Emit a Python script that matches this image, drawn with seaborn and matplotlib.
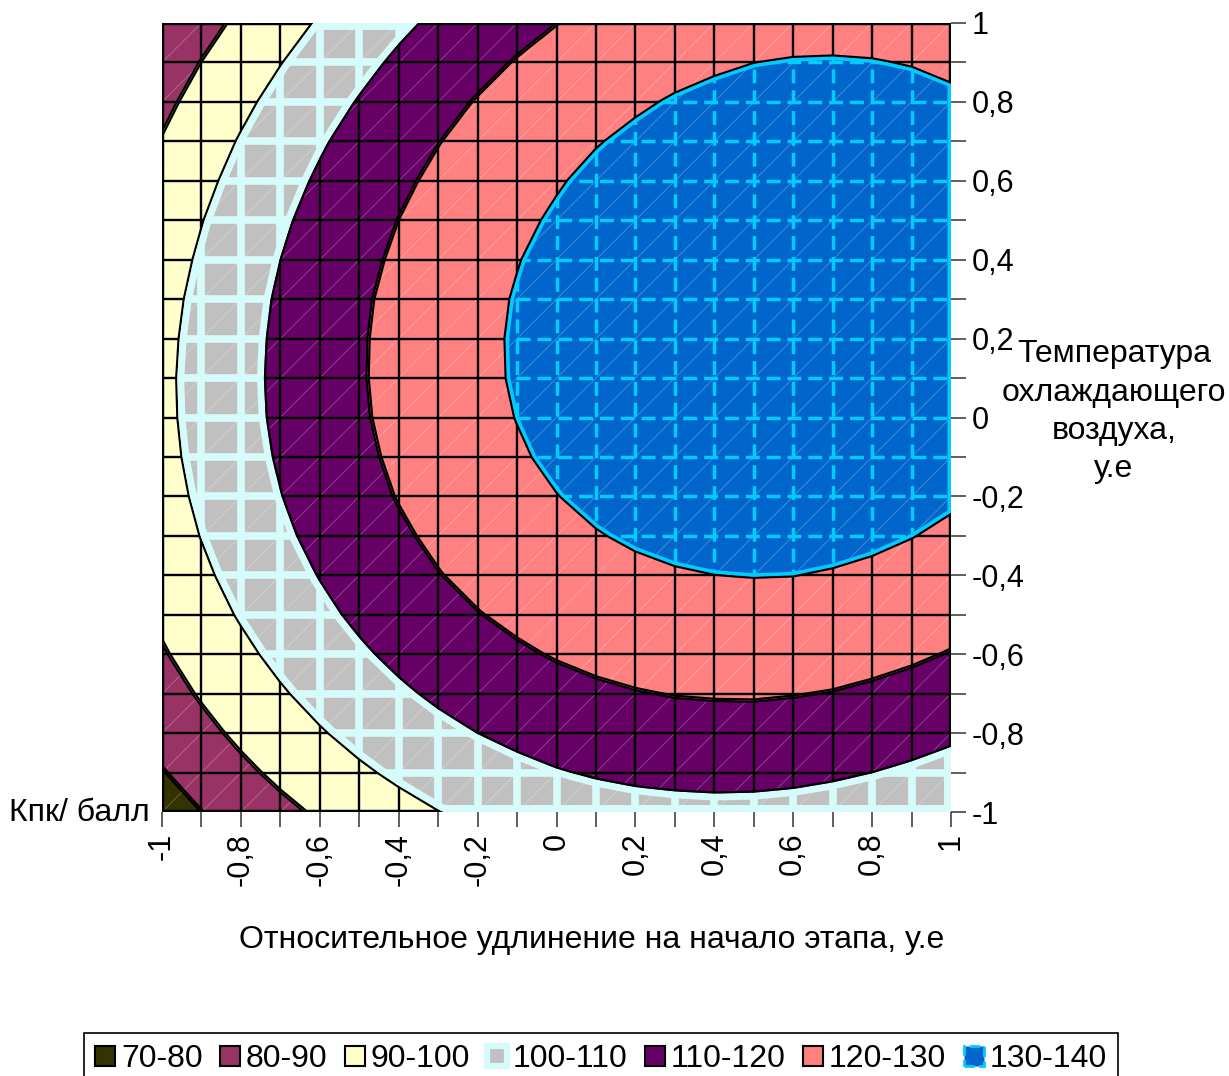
import numpy as np
import matplotlib
matplotlib.use("Agg")
import matplotlib.pyplot as plt
from matplotlib.collections import LineCollection
from matplotlib.patches import PathPatch, Patch
import seaborn as sns

# Grid of the two factors (coded units)
x_elong = [-1.0, -0.9, -0.8, -0.7, -0.6, -0.5, -0.4, -0.3, -0.2, -0.1, 0.0,
           0.1, 0.2, 0.3, 0.4, 0.5, 0.6, 0.7, 0.8, 0.9, 1.0]
y_temp = [-1.0, -0.9, -0.8, -0.7, -0.6, -0.5, -0.4, -0.3, -0.2, -0.1, 0.0,
          0.1, 0.2, 0.3, 0.4, 0.5, 0.6, 0.7, 0.8, 0.9, 1.0]

# Кпк, one row per temperature level (from y = -1 up to y = 1)
kpk_rows = [
    [75.5, 79.9, 84.0, 87.8, 91.2, 94.4, 97.2, 99.7, 101.8, 103.6, 105.1, 106.3, 107.1, 107.6, 107.8, 107.7, 107.2, 106.4, 105.3, 103.8, 102.0],
    [79.5, 83.9, 88.1, 91.9, 95.4, 98.6, 101.4, 104.0, 106.2, 108.0, 109.6, 110.8, 111.7, 112.2, 112.5, 112.4, 112.0, 111.2, 110.1, 108.7, 107.0],
    [83.1, 87.6, 91.8, 95.7, 99.2, 102.4, 105.3, 107.9, 110.1, 112.0, 113.6, 114.9, 115.8, 116.5, 116.8, 116.7, 116.4, 115.7, 114.6, 113.3, 111.6],
    [86.3, 90.9, 95.1, 99.0, 102.6, 105.9, 108.8, 111.4, 113.7, 115.7, 117.3, 118.6, 119.6, 120.3, 120.6, 120.7, 120.3, 119.7, 118.7, 117.4, 115.8],
    [89.2, 93.8, 98.0, 102.0, 105.6, 108.9, 111.9, 114.5, 116.9, 118.9, 120.6, 122.0, 123.0, 123.7, 124.1, 124.2, 123.9, 123.4, 122.4, 121.2, 119.6],
    [91.6, 96.3, 100.6, 104.6, 108.2, 111.6, 114.6, 117.3, 119.7, 121.7, 123.5, 124.9, 126.0, 126.8, 127.2, 127.3, 127.1, 126.6, 125.8, 124.6, 123.0],
    [93.7, 98.4, 102.7, 106.7, 110.4, 113.8, 116.9, 119.7, 122.1, 124.2, 126.0, 127.5, 128.6, 129.4, 129.9, 130.1, 130.0, 129.5, 128.7, 127.5, 126.1],
    [95.3, 100.1, 104.5, 108.5, 112.3, 115.7, 118.8, 121.6, 124.1, 126.3, 128.1, 129.6, 130.8, 131.7, 132.2, 132.5, 132.4, 131.9, 131.2, 130.1, 128.7],
    [96.6, 101.4, 105.8, 109.9, 113.7, 117.2, 120.4, 123.2, 125.7, 127.9, 129.8, 131.4, 132.6, 133.6, 134.2, 134.4, 134.4, 134.0, 133.3, 132.3, 130.9],
    [97.5, 102.3, 106.8, 110.9, 114.8, 118.3, 121.5, 124.4, 127.0, 129.2, 131.2, 132.8, 134.1, 135.0, 135.7, 136.0, 136.0, 135.7, 135.0, 134.1, 132.7],
    [98.0, 102.8, 107.3, 111.6, 115.4, 119.0, 122.3, 125.2, 127.8, 130.1, 132.1, 133.7, 135.1, 136.1, 136.8, 137.2, 137.2, 137.0, 136.4, 135.4, 134.2],
    [98.1, 103.0, 107.5, 111.8, 115.7, 119.3, 122.6, 125.6, 128.3, 130.6, 132.6, 134.3, 135.7, 136.8, 137.5, 137.9, 138.0, 137.8, 137.3, 136.4, 135.2],
    [97.8, 102.7, 107.3, 111.6, 115.6, 119.2, 122.6, 125.6, 128.3, 130.7, 132.8, 134.5, 136.0, 137.1, 137.9, 138.3, 138.5, 138.3, 137.8, 137.0, 135.8],
    [97.1, 102.1, 106.7, 111.1, 115.1, 118.8, 122.2, 125.2, 128.0, 130.4, 132.5, 134.3, 135.8, 137.0, 137.8, 138.3, 138.5, 138.4, 137.9, 137.1, 136.0],
    [96.0, 101.0, 105.7, 110.1, 114.2, 117.9, 121.3, 124.4, 127.2, 129.7, 131.9, 133.7, 135.2, 136.4, 137.3, 137.9, 138.1, 138.0, 137.6, 136.9, 135.8],
    [94.6, 99.6, 104.4, 108.8, 112.9, 116.7, 120.1, 123.3, 126.1, 128.6, 130.8, 132.7, 134.3, 135.5, 136.5, 137.1, 137.3, 137.3, 136.9, 136.2, 135.2],
    [92.7, 97.8, 102.6, 107.1, 111.2, 115.0, 118.5, 121.7, 124.6, 127.2, 129.4, 131.4, 133.0, 134.2, 135.2, 135.9, 136.2, 136.2, 135.8, 135.2, 134.2],
    [90.5, 95.7, 100.5, 105.0, 109.2, 113.0, 116.6, 119.8, 122.7, 125.3, 127.6, 129.6, 131.2, 132.6, 133.6, 134.3, 134.6, 134.7, 134.4, 133.7, 132.8],
    [87.9, 93.1, 98.0, 102.5, 106.7, 110.6, 114.2, 117.5, 120.5, 123.1, 125.4, 127.4, 129.1, 130.5, 131.5, 132.3, 132.7, 132.7, 132.5, 131.9, 131.0],
    [85.0, 90.2, 95.1, 99.6, 103.9, 107.8, 111.5, 114.8, 117.8, 120.5, 122.8, 124.9, 126.6, 128.0, 129.1, 129.9, 130.3, 130.4, 130.2, 129.7, 128.8],
    [81.6, 86.9, 91.8, 96.4, 100.7, 104.7, 108.4, 111.7, 114.8, 117.5, 119.9, 122.0, 123.7, 125.2, 126.3, 127.1, 127.6, 127.7, 127.6, 127.0, 126.2],
]

levels = [70, 80, 90, 100, 110, 120, 130, 140]
band_labels = ["70-80", "80-90", "90-100", "100-110", "110-120", "120-130", "130-140"]
band_colors = ['#333300', '#993366', '#FFFFCC', '#C0C0C0', '#660066', '#FF8080', '#0066CC']
tick_values = [-1.0, -0.8, -0.6, -0.4, -0.2, 0.0, 0.2, 0.4, 0.6, 0.8, 1.0]
tick_labels = ["-1", "-0,8", "-0,6", "-0,4", "-0,2", "0", "0,2", "0,4", "0,6", "0,8", "1"]
minor_values = [-0.9, -0.7, -0.5, -0.3, -0.1, 0.1, 0.3, 0.5, 0.7, 0.9]
y_title_lines = ["Температура", "охлаждающего", "воздуха,", "у.е"]

sns.set_theme(style="white")
plt.rcParams['font.family'] = ['Liberation Sans', 'DejaVu Sans']
for k in ('text.color', 'axes.labelcolor', 'xtick.color', 'ytick.color'):
    plt.rcParams[k] = 'black'
FS = 23
TFS = 22

xs = np.array(x_elong)
ys = np.array(y_temp)
Z = np.array(kpk_rows)

fig = plt.figure(figsize=(12.29, 10.76), dpi=100)
ax = fig.add_axes([162/1229, 1-812/1076, 789/1229, 789/1076])

# filled bands
cs = ax.contourf(xs, ys, Z, levels=levels, colors=band_colors)
band_paths = cs.get_paths()

# faint triangle diagonals of the surface mesh
diag = [[(x, y), (x2, y2)] for x, x2 in zip(xs[:-1], xs[1:]) for y, y2 in zip(ys[:-1], ys[1:])]
ax.add_collection(LineCollection(diag, colors='white', linewidths=0.7, alpha=0.25, zorder=2))

# mesh lines and band borders, styled per band
grid_segs = [[(x, ys[0]), (x, ys[-1])] for x in xs] + [[(xs[0], y), (xs[-1], y)] for y in ys]
normal = dict(color='black', lw=1.7, ls='solid', edge_lw=3.2, edge_color='black')
styles = {3: dict(color='#D6FBFB', lw=5.5, ls='solid', edge_lw=10, edge_color='#D6FBFB'),
          6: dict(color='#00CCFF', lw=2.5, ls=(0, (4, 2)), edge_lw=5, edge_color='#00CCFF')}
for i, path in enumerate(band_paths):
    if len(path.vertices) == 0:
        continue
    st = styles.get(i, normal)
    lc = LineCollection(grid_segs, colors=st['color'], linewidths=st['lw'],
                        linestyles=st['ls'], zorder=3)
    lc.set_clip_path(path, ax.transData)
    ax.add_collection(lc)
    edge = PathPatch(path, facecolor='none', edgecolor=st['edge_color'],
                     lw=st['edge_lw'], zorder=4)
    edge.set_clip_path(path, ax.transData)
    ax.add_patch(edge)

ax.set_xlim(xs[0], xs[-1])
ax.set_ylim(ys[0], ys[-1])
for sp in ax.spines.values():
    sp.set_visible(False)

ax.set_xticks(tick_values)
ax.set_xticklabels(tick_labels, rotation=90)
ax.set_xticks(minor_values, minor=True)
ax.yaxis.tick_right()
ax.set_yticks(tick_values)
ax.set_yticklabels(tick_labels)
ax.set_yticks(minor_values, minor=True)
ax.tick_params(axis='both', which='both', length=11, width=1.1, color='#333333',
               labelsize=TFS, pad=4, bottom=True, right=True, left=False, top=False)

fig.text(150/1229, 1-813/1076, "Кпк/ балл", ha='right', va='center', fontsize=FS)
fig.text(592/1229, 1-940/1076, "Относительное удлинение на начало этапа, у.е",
         ha='center', va='center', fontsize=FS)
for k, line in enumerate(y_title_lines):
    fig.text(1114/1229, 1-(354 + 38.5*k)/1076, line, ha='center', va='center', fontsize=FS)

handles = []
for i, (lab, col) in enumerate(zip(band_labels, band_colors)):
    if i == 3:
        h = Patch(facecolor=col, edgecolor='#D6FBFB', lw=4.5, label=lab)
    elif i == 6:
        h = Patch(facecolor=col, edgecolor='#00CCFF', lw=2, ls='--', label=lab)
    else:
        h = Patch(facecolor=col, edgecolor='black', lw=1.5, label=lab)
    handles.append(h)
leg = fig.legend(handles=handles, loc='upper center', bbox_to_anchor=(601/1229, 1-1033/1076),
                 ncol=7, fontsize=FS, frameon=True, fancybox=False, edgecolor='black',
                 framealpha=1, handlelength=0.62, handleheight=0.55, handletextpad=0.18,
                 columnspacing=0.55, borderpad=0.35, borderaxespad=0)
leg.get_frame().set_linewidth(1.2)

fig.savefig("out.png")
